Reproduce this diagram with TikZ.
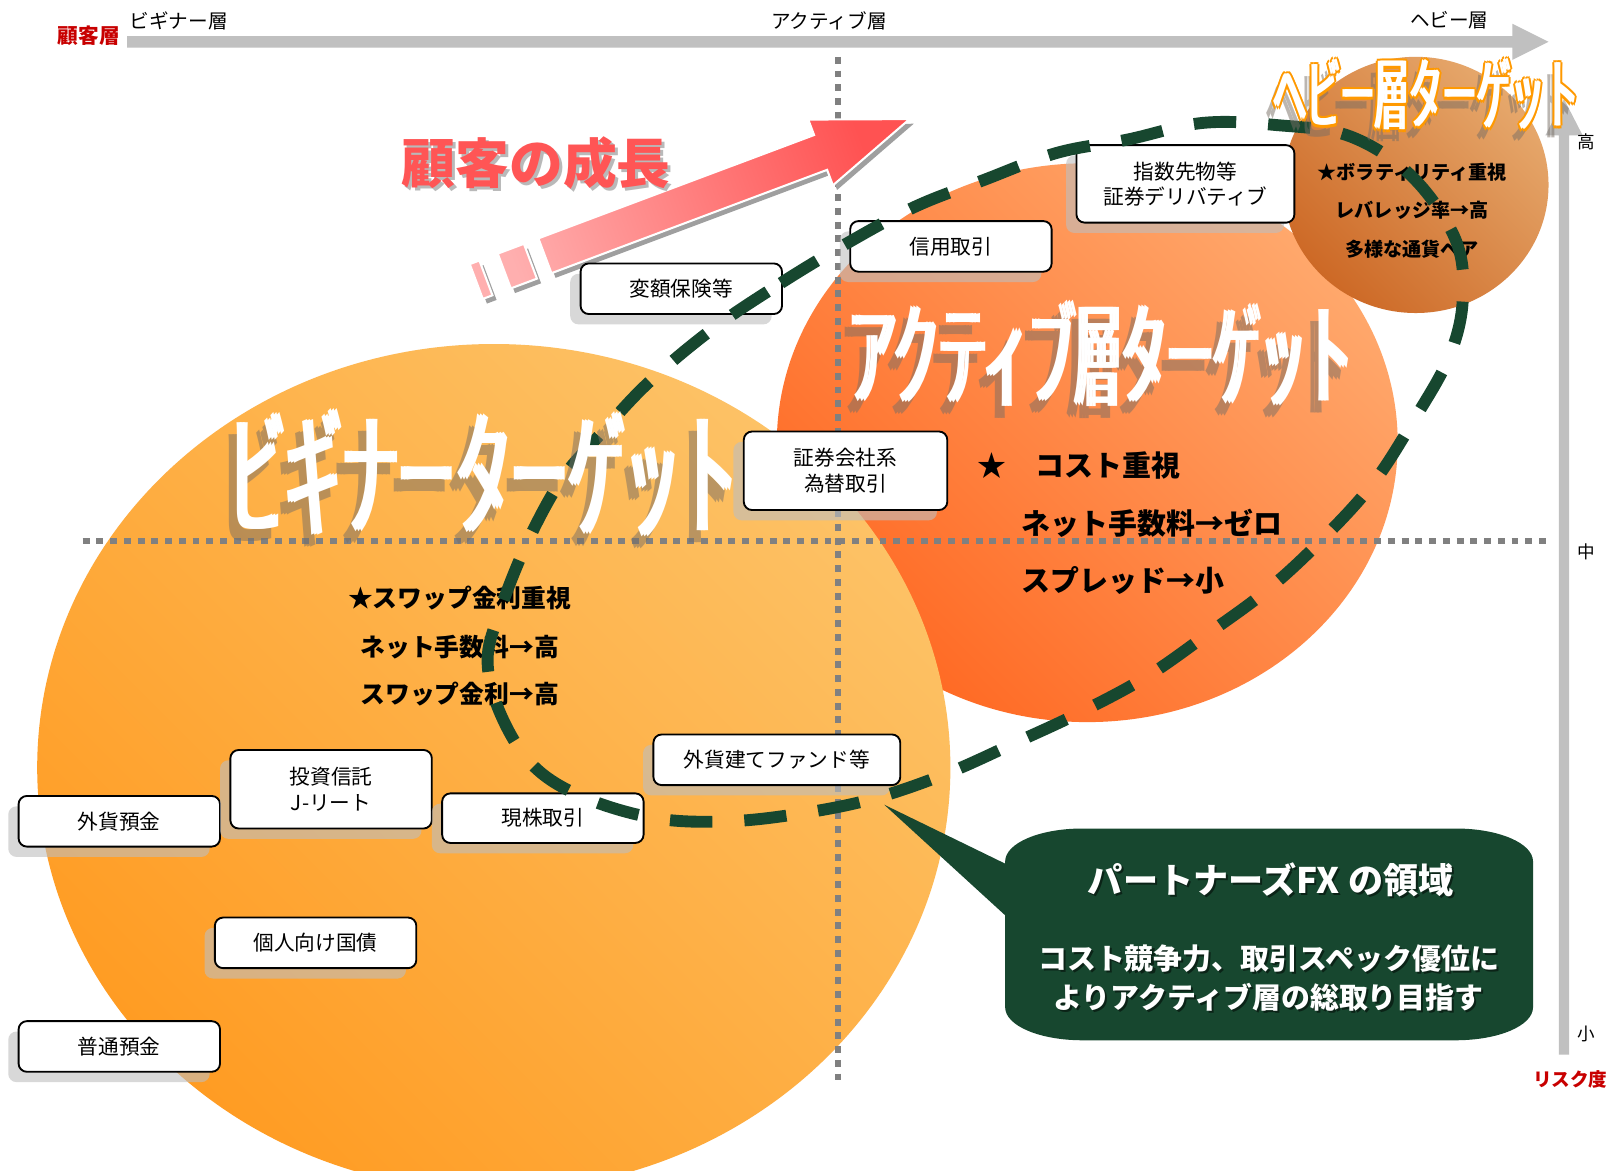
\documentclass[tikz,border=0pt]{standalone}
\usepackage{fontspec}
\setmainfont{Noto Sans CJK JP}
\newfontfamily\jp{Noto Sans CJK JP}
\usetikzlibrary{shadows}
\definecolor{axisgray}{RGB}{192,192,192}
\definecolor{dotgray}{RGB}{128,128,128}
\definecolor{dgreen}{RGB}{23,71,47}
\definecolor{begA}{RGB}{255,156,35}
\definecolor{begB}{RGB}{253,194,102}
\definecolor{actA}{RGB}{255,105,35}
\definecolor{actB}{RGB}{255,168,108}
\definecolor{hvyA}{RGB}{205,105,38}
\definecolor{hvyB}{RGB}{230,168,108}
\definecolor{arrA}{RGB}{255,175,175}
\definecolor{arrB}{RGB}{255,82,82}
\definecolor{titred}{RGB}{255,85,85}
\definecolor{lblred}{RGB}{200,0,0}
\definecolor{hvyorange}{RGB}{255,153,0}
\definecolor{shgray}{RGB}{190,190,190}
\definecolor{tshadow}{RGB}{120,110,100}
\newcommand{\fsz}[2]{\fontsize{#1}{#2}\selectfont}
\begin{document}
\begin{tikzpicture}[x=1pt,y=-1pt,
  lbl/.style={inner sep=0pt, font=\jp\fsz{19}{22}},
  redlbl/.style={inner sep=0pt, text=lblred, font=\jp\bfseries\fsz{20}{24}},
  dotline/.style={draw=dotgray, line width=6pt, dash pattern=on 6.7pt off 6.6pt},
  itembox/.style={draw=black, line width=1.8pt, fill=white, rounded corners=8pt, inner sep=0pt,
     align=center, font=\jp\fsz{20}{24.5},
     drop shadow={shadow xshift=-10pt, shadow yshift=-10pt, fill=shgray, opacity=0.6}},
  btext/.style={inner sep=0pt, font=\jp\bfseries\fsz{24}{28}},
  atext/.style={inner sep=0pt, anchor=west, font=\jp\bfseries\fsz{28}{32}},
  htext/.style={inner sep=0pt, font=\jp\bfseries\fsz{18.5}{22}},
  ttl/.style={inner sep=0pt, anchor=base, font=\jp},
]
\useasboundingbox (0,0) rectangle (1568.2,1133.5);
\fill[white] (0,0) rectangle (1568.2,1133.5);

% axes
\fill[axisgray] (123,35) -- (1464,35) -- (1464,23) -- (1499,40.5) -- (1464,58) -- (1464,46) -- (123,46) -- cycle;
\fill[axisgray] (1509,1021) -- (1509,131) -- (1496,131) -- (1514,96) -- (1532,131) -- (1519,131) -- (1519,1021) -- cycle;
\node[redlbl] (kokyaku) at (86,34.7) {顧客層};
\node[lbl] (beg) at (173,20) {ビギナー層};
\node[lbl] (act) at (802.5,20) {アクティブ層};
\node[lbl] (hvy) at (1403,20) {ヘビー層};
\node[lbl, font=\jp\fsz{17}{20}] (hi) at (1536,137) {高};
\node[lbl, font=\jp\fsz{17}{20}] (mid) at (1536,534) {中};
\node[lbl, font=\jp\fsz{17}{20}] (lo) at (1536,1001) {小};
\node[redlbl, font=\jp\bfseries\fsz{18}{22}] (risk) at (1520,1044.7) {リスク度};

% target areas
\path[shade, left color=actA, right color=actB, shading angle=135] (1052.5,428.5) ellipse [x radius=300.5, y radius=270.5];
\path[shade, left color=hvyA, right color=hvyB, shading angle=135] (1370.5,179) ellipse [x radius=128.5, y radius=124];
\path[shade, left color=begA, right color=begB, shading angle=135] (478,743) ellipse [x radius=442, y radius=410];

% grid lines
\draw[dotline] (811,55) -- (811,1050);
\draw[dotline] (80,523.4) -- (1499,523.4);

% growth arrow
\begin{scope}[shift={(531.5,252.1)}, rotate=20.55]
  \fill[gray!75] (0,-18) -- (285,-18) -- (285,-34) -- (377,0) -- (285,34) -- (285,18) -- (0,18) -- cycle
    (-42,-18) rectangle (-15,18) (-71,-18) rectangle (-61,18);
\end{scope}
\begin{scope}[shift={(527.5,247.6)}, rotate=20.55]
  \path[draw=white, line width=2pt, left color=arrA, right color=arrB, shading angle=110.55]
    (0,-18) -- (285,-18) -- (285,-34) -- (377,0) -- (285,34) -- (285,18) -- (0,18) -- cycle
    (-42,-18) rectangle (-15,18) (-71,-18) rectangle (-61,18);
\end{scope}
\node[inner sep=0pt, font=\jp\bfseries\fsz{52}{60}, text=gray!55] (growthsh) at (522,161) {顧客の成長};
\node[inner sep=0pt, font=\jp\bfseries\fsz{52}{60}, text=titred] (growth) at (519,158) {顧客の成長};

% product boxes
\node[itembox, minimum width=195pt, minimum height=49pt] (gaika) at (115.5,795) {外貨預金};
\node[itembox, minimum width=195pt, minimum height=76pt] (toushin) at (320.5,764) {投資信託\\J-リート};
\node[itembox, minimum width=195pt, minimum height=48pt] (genkabu) at (525.5,792) {現株取引};
\node[itembox, minimum width=239pt, minimum height=49pt] (fund) at (752,735.5) {外貨建てファンド等};
\node[itembox, minimum width=195pt, minimum height=49pt] (kokusai) at (305.5,912.7) {個人向け国債};
\node[itembox, minimum width=195pt, minimum height=49pt] (futsuu) at (115.5,1013) {普通預金};
\node[itembox, minimum width=195pt, minimum height=49pt] (hengaku) at (659.5,279.5) {変額保険等};
\node[itembox, minimum width=195pt, minimum height=49pt] (shinyou) at (920.5,238.5) {信用取引};
\node[itembox, minimum width=211pt, minimum height=75pt] (shisu) at (1147.5,178) {指数先物等\\証券デリバティブ};
\node[itembox, minimum width=197pt, minimum height=76pt] (shouken) at (818.5,455.7) {証券会社系\\為替取引};

% target texts
\node[btext] (b1) at (445,579) {★スワップ金利重視};
\node[btext] (b2) at (445,626.6) {ネット手数料→高};
\node[btext] (b3) at (445,672) {スワップ金利→高};
\node[atext] (a1) at (946,451) {★　コスト重視};
\node[atext] (a2) at (989,506.6) {ネット手数料→ゼロ};
\node[atext] (a3) at (989,561.5) {スプレッド→小};
\node[htext] (h1) at (1367,167) {★ボラティリティ重視};
\node[htext] (h2) at (1367,204) {レバレッジ率→高};
\node[htext] (h3) at (1367,241) {多様な通貨ペア};

% PartnersFX domain
\draw[dgreen, line width=11.5pt, dash pattern=on 41pt off 31pt] plot[smooth cycle, tension=0.6] coordinates {
 (689,319) (756,274) (819,236) (886,200) (953,174) (1023,148) (1092,135) (1164,119) (1235,121)
 (1307,132) (1367,171) (1409,232) (1416,290) (1403,345) (1369,406) (1329,468) (1279,523)
 (1227,571) (1170,613) (1110,655) (1045,690) (985,718) (916,749) (846,773) (778,787) (706,795)
 (634,792) (563,771) (515,740) (484,690) (472,640) (483,594) (510,526) (543,465) (577,425) (626,372)};

% big titles
\begin{scope}[transparency group, opacity=0.5]
 \foreach \dx in {-3,0,3}{
  \node[ttl, text=tshadow] at (461+\dx,521) {\scalebox{0.408}[1]{\fsz{134}{134}ビギナーターゲット}};
  \node[ttl, text=tshadow] at (1059+\dx,396) {\scalebox{0.406}[1]{\fsz{110}{110}アクティブ層ターゲット}};
 }
 \foreach \dx in {-2,2}{
  \node[ttl, text=tshadow] at (1374+\dx,131) {\scalebox{0.433}[1]{\fsz{76}{76}ヘビー層ターゲット}};
 }
\end{scope}
\foreach \dx in {-3,3}{
  \node[ttl, text=white] at (468+\dx,509.6) {\scalebox{0.408}[1]{\fsz{134}{134}ビギナーターゲット}};
  \node[ttl, text=white] at (1066+\dx,385) {\scalebox{0.406}[1]{\fsz{110}{110}アクティブ層ターゲット}};
}
\node[ttl, text=white] (begtitle) at (468,509.6) {\scalebox{0.408}[1]{\fsz{134}{134}ビギナーターゲット}};
\node[ttl, text=white] (acttitle) at (1066,385) {\scalebox{0.406}[1]{\fsz{110}{110}アクティブ層ターゲット}};
\foreach \dx/\dy in {-3.5/0,3.5/0,0/-2.5,0/2.5,-2.5/-2,2.5/-2,-2.5/2,2.5/2}{
  \node[ttl, text=hvyorange] at (1380.5+\dx,120+\dy) {\scalebox{0.433}[1]{\fsz{76}{76}ヘビー層ターゲット}};
}
\foreach \dx in {-1.2,1.2}{
  \node[ttl, text=white] at (1380.5+\dx,120) {\scalebox{0.433}[1]{\fsz{76}{76}ヘビー層ターゲット}};
}
\node[ttl, text=white] (hvytitle) at (1380.5,120) {\scalebox{0.433}[1]{\fsz{76}{76}ヘビー層ターゲット}};

% callout
\path[fill=dgreen] (1048,802) -- (1409,802) .. controls (1450.4,802) and (1484,816) .. (1484,834)
  -- (1484,975) .. controls (1484,993) and (1450.4,1007) .. (1409,1007)
  -- (1048,1007) .. controls (1006.6,1007) and (973,993) .. (973,975)
  -- (973,886) -- (856,779) -- (973,836)
  -- (973,834) .. controls (973,816) and (1006.6,802) .. (1048,802) -- cycle;
\node[inner sep=0pt, font=\jp\bfseries\fsz{34}{40}, text=black, opacity=0.5] (cl1sh) at (1232,854) {パートナーズFX の領域};
\node[inner sep=0pt, font=\jp\bfseries\fsz{34}{40}, text=white] (cl1) at (1230,852) {パートナーズFX の領域};
\node[inner sep=0pt, font=\jp\bfseries\fsz{28}{38}, text=black, opacity=0.5, align=center] (cl2sh) at (1230,948.6) {コスト競争力、取引スペック優位に\\よりアクティブ層の総取り目指す};
\node[inner sep=0pt, font=\jp\bfseries\fsz{28}{38}, text=white, align=center] (cl2) at (1228,946.6) {コスト競争力、取引スペック優位に\\よりアクティブ層の総取り目指す};
\end{tikzpicture}
\end{document}
